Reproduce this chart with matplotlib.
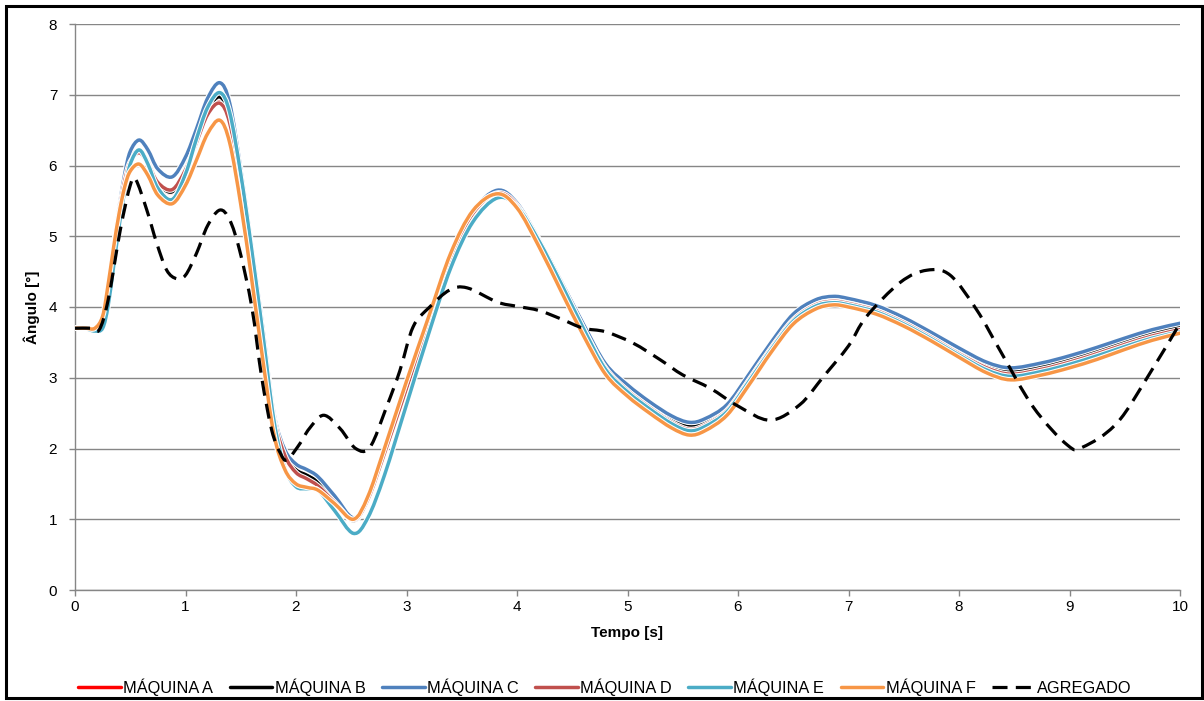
import matplotlib
matplotlib.use("Agg")
import matplotlib.pyplot as plt
import numpy as np
from matplotlib.path import Path
from matplotlib.patches import PathPatch, Rectangle
from matplotlib.lines import Line2D
import matplotlib.patheffects as pe

plt.rcParams['font.family'] = ['Liberation Sans', 'DejaVu Sans']

# Time base for the machine rotor angles [s]
tempo = [0.0, 0.1, 0.18, 0.25, 0.3, 0.35, 0.4, 0.45,
         0.5, 0.58, 0.66, 0.75, 0.88, 1.0, 1.1, 1.2,
         1.31, 1.4, 1.5, 1.6, 1.7, 1.8, 1.9, 2.0,
         2.1, 2.2, 2.35, 2.52, 2.65, 2.8, 3.0, 3.2,
         3.4, 3.6, 3.82, 4.0, 4.2, 4.4, 4.6, 4.8,
         5.0, 5.2, 5.4, 5.56, 5.7, 5.9, 6.1, 6.3,
         6.5, 6.7, 6.86, 7.0, 7.25, 7.5, 7.75, 8.0,
         8.25, 8.47, 8.75, 9.0, 9.25, 9.5, 9.75, 10.0]

maquina_a = [3.70, 3.70, 3.70, 3.85, 4.30, 4.85, 5.37, 5.78,
             6.05, 6.18, 6.02, 5.74, 5.62, 5.92, 6.33, 6.72,
             6.90, 6.62, 5.76, 4.70, 3.56, 2.45, 1.90, 1.68,
             1.60, 1.50, 1.25, 0.98, 1.28, 1.93, 2.86, 3.78,
             4.70, 5.33, 5.62, 5.45, 4.94, 4.34, 3.72, 3.17,
             2.85, 2.61, 2.40, 2.30, 2.36, 2.57, 3.00, 3.45,
             3.85, 4.06, 4.11, 4.08, 3.98, 3.81, 3.60, 3.37,
             3.17, 3.08, 3.15, 3.25, 3.37, 3.50, 3.62, 3.71]

maquina_b = [3.70, 3.70, 3.70, 3.85, 4.30, 4.85, 5.38, 5.80,
             6.08, 6.22, 6.05, 5.76, 5.63, 5.95, 6.38, 6.78,
             6.97, 6.68, 5.80, 4.72, 3.58, 2.45, 1.92, 1.70,
             1.62, 1.52, 1.26, 0.98, 1.28, 1.93, 2.86, 3.78,
             4.70, 5.33, 5.63, 5.46, 4.95, 4.35, 3.73, 3.18,
             2.86, 2.62, 2.41, 2.31, 2.37, 2.58, 3.01, 3.46,
             3.86, 4.07, 4.12, 4.09, 3.99, 3.82, 3.61, 3.38,
             3.18, 3.09, 3.16, 3.26, 3.38, 3.51, 3.63, 3.72]

maquina_c = [3.70, 3.70, 3.70, 3.85, 4.30, 4.88, 5.42, 5.88,
             6.20, 6.36, 6.22, 5.95, 5.84, 6.12, 6.52, 6.95,
             7.17, 6.88, 5.95, 4.85, 3.70, 2.50, 1.98, 1.78,
             1.70, 1.60, 1.33, 1.02, 1.30, 1.95, 2.88, 3.80,
             4.72, 5.35, 5.65, 5.47, 4.95, 4.36, 3.76, 3.20,
             2.90, 2.66, 2.46, 2.37, 2.42, 2.62, 3.05, 3.50,
             3.90, 4.10, 4.15, 4.12, 4.02, 3.85, 3.64, 3.42,
             3.22, 3.14, 3.21, 3.31, 3.43, 3.56, 3.68, 3.77]

maquina_d = [3.70, 3.70, 3.70, 3.85, 4.30, 4.85, 5.37, 5.78,
             6.05, 6.18, 6.03, 5.76, 5.66, 5.94, 6.33, 6.72,
             6.88, 6.60, 5.74, 4.68, 3.55, 2.44, 1.90, 1.66,
             1.57, 1.47, 1.24, 0.99, 1.28, 1.93, 2.85, 3.77,
             4.69, 5.32, 5.61, 5.44, 4.92, 4.32, 3.70, 3.14,
             2.82, 2.58, 2.37, 2.27, 2.33, 2.54, 2.97, 3.42,
             3.82, 4.03, 4.08, 4.05, 3.95, 3.78, 3.57, 3.34,
             3.14, 3.05, 3.12, 3.22, 3.34, 3.47, 3.59, 3.68]

maquina_e = [3.70, 3.69, 3.66, 3.70, 4.02, 4.58, 5.15, 5.65,
             6.02, 6.22, 6.02, 5.68, 5.52, 5.88, 6.38, 6.82,
             7.03, 6.75, 5.88, 4.80, 3.62, 2.40, 1.72, 1.46,
             1.43, 1.41, 1.12, 0.80, 1.02, 1.62, 2.62, 3.62,
             4.55, 5.20, 5.54, 5.42, 4.93, 4.33, 3.70, 3.12,
             2.80, 2.56, 2.35, 2.25, 2.31, 2.52, 2.95, 3.40,
             3.80, 4.01, 4.06, 4.03, 3.93, 3.76, 3.55, 3.32,
             3.11, 3.02, 3.09, 3.19, 3.31, 3.44, 3.56, 3.65]

maquina_f = [3.70, 3.70, 3.70, 3.87, 4.32, 4.85, 5.33, 5.70,
             5.92, 6.02, 5.86, 5.58, 5.46, 5.72, 6.08, 6.45,
             6.64, 6.32, 5.45, 4.38, 3.25, 2.20, 1.70, 1.50,
             1.45, 1.41, 1.22, 1.00, 1.32, 2.00, 2.95, 3.86,
             4.76, 5.36, 5.60, 5.40, 4.85, 4.22, 3.60, 3.05,
             2.74, 2.50, 2.29, 2.19, 2.25, 2.47, 2.90, 3.36,
             3.76, 3.97, 4.03, 4.00, 3.90, 3.73, 3.52, 3.29,
             3.07, 2.97, 3.04, 3.14, 3.26, 3.40, 3.53, 3.63]

# Aggregated equivalent machine
tempo_agregado = [0.0, 0.15, 0.22, 0.3, 0.41, 0.5, 0.55, 0.65,
                  0.74, 0.83, 0.92, 1.0, 1.1, 1.2, 1.31, 1.4,
                  1.49, 1.6, 1.69, 1.78, 1.86, 1.92, 2.04, 2.12,
                  2.25, 2.4, 2.54, 2.67, 2.82, 2.94, 3.06, 3.21,
                  3.39, 3.55, 3.82, 4.0, 4.2, 4.4, 4.6, 4.8,
                  5.05, 5.3, 5.5, 5.75, 6.0, 6.29, 6.56, 6.77,
                  7.0, 7.16, 7.47, 7.71, 7.92, 8.16, 8.37, 8.67,
                  8.98, 9.12, 9.43, 9.73, 10.0]
agregado = [3.70, 3.70, 3.68, 4.10, 5.09, 5.72, 5.80, 5.37,
            4.90, 4.52, 4.40, 4.45, 4.76, 5.15, 5.37, 5.23,
            4.80, 4.00, 3.00, 2.26, 1.93, 1.84, 2.08, 2.28,
            2.47, 2.28, 2.00, 2.02, 2.59, 3.10, 3.72, 4.00,
            4.24, 4.27, 4.07, 4.01, 3.95, 3.83, 3.70, 3.65,
            3.49, 3.25, 3.04, 2.85, 2.60, 2.40, 2.62, 3.01,
            3.45, 3.86, 4.35, 4.52, 4.45, 3.96, 3.39, 2.59,
            2.05, 2.02, 2.36, 3.07, 3.77]

nomes = ["MÁQUINA A", "MÁQUINA B", "MÁQUINA C", "MÁQUINA D", "MÁQUINA E", "MÁQUINA F"]
cores = ["#ff0000", "#000000", "#4f81bd", "#c0504d", "#4bacc6", "#f79646"]
maquinas = [maquina_a, maquina_b, maquina_c, maquina_d, maquina_e, maquina_f]


def smooth_path(x, y):
    """Smoothed curve through the points (cubic Bezier, Catmull-Rom tangents)."""
    x = np.asarray(x, float)
    y = np.asarray(y, float)
    n = len(x)
    verts = [(x[0], y[0])]
    codes = [Path.MOVETO]
    for i in range(n - 1):
        i0 = max(i - 1, 0)
        i3 = min(i + 2, n - 1)
        c1 = (x[i] + (x[i + 1] - x[i0]) / 6.0, y[i] + (y[i + 1] - y[i0]) / 6.0)
        c2 = (x[i + 1] - (x[i3] - x[i]) / 6.0, y[i + 1] - (y[i3] - y[i]) / 6.0)
        verts += [c1, c2, (x[i + 1], y[i + 1])]
        codes += [Path.CURVE4] * 3
    return Path(verts, codes)


W, H = 1204, 701
fig = plt.figure(figsize=(W / 100, H / 100), dpi=100)
ax = fig.add_axes([75 / W, 111 / H, 1105 / W, 566 / H])
ax.set_xlim(0, 10)
ax.set_ylim(0, 8)
ax.set_xticks(range(0, 11))
ax.set_yticks(range(0, 9))

grid_color = "#868686"
ax.grid(axis="y", color=grid_color, lw=1.0)
ax.set_axisbelow(True)
for s in ("top", "right"):
    ax.spines[s].set_visible(False)
for s in ("left", "bottom"):
    ax.spines[s].set_color(grid_color)
    ax.spines[s].set_linewidth(1.0)
ax.tick_params(axis="both", direction="out", length=4.3, width=1.0,
               color=grid_color, labelsize=11, labelcolor="black")
ax.tick_params(axis="y", pad=8.5)
ax.tick_params(axis="x", pad=3)

halo = [pe.Stroke(linewidth=4.0, foreground="white"), pe.Normal()]
for vals, cor, k in zip(maquinas, cores, range(6)):
    patch = PathPatch(smooth_path(tempo, vals), fill=False, edgecolor=cor,
                      lw=2.5, capstyle="round", joinstyle="round",
                      transform=ax.transData, zorder=3 + k * 0.1)
    patch.set_path_effects(halo)
    ax.add_patch(patch)

ag = PathPatch(smooth_path(tempo_agregado, agregado), fill=False,
               edgecolor="black", lw=2.3, linestyle=(0, (4.7, 2.6)),
               capstyle="butt", transform=ax.transData, zorder=4)
ax.add_patch(ag)

fig.text(32 / W, 1 - 307 / H, "Ângulo [°]", rotation=90, ha="center",
         va="center", fontsize=11, fontweight="bold")
fig.text(627 / W, 1 - 633 / H, "Tempo [s]", ha="center", va="center",
         fontsize=11, fontweight="bold")

handles = [Line2D([], [], color=c, lw=2.5, solid_capstyle="round") for c in cores]
handles.append(Line2D([], [], color="black", lw=2.3, linestyle=(0, (4.7, 2.6))))
fig.legend(handles, nomes + ["AGREGADO"], loc="center",
           bbox_to_anchor=(605 / W, 1 - 687 / H), ncol=7, frameon=False,
           fontsize=11.8, handlelength=2.6, handletextpad=0.15,
           columnspacing=1.0, borderaxespad=0)

fig.patches.append(Rectangle((6 / W, 3 / H), 1196 / W, 692 / H,
                             transform=fig.transFigure, fill=False,
                             edgecolor="black", lw=2.2))

fig.savefig("out.png", dpi=100)
